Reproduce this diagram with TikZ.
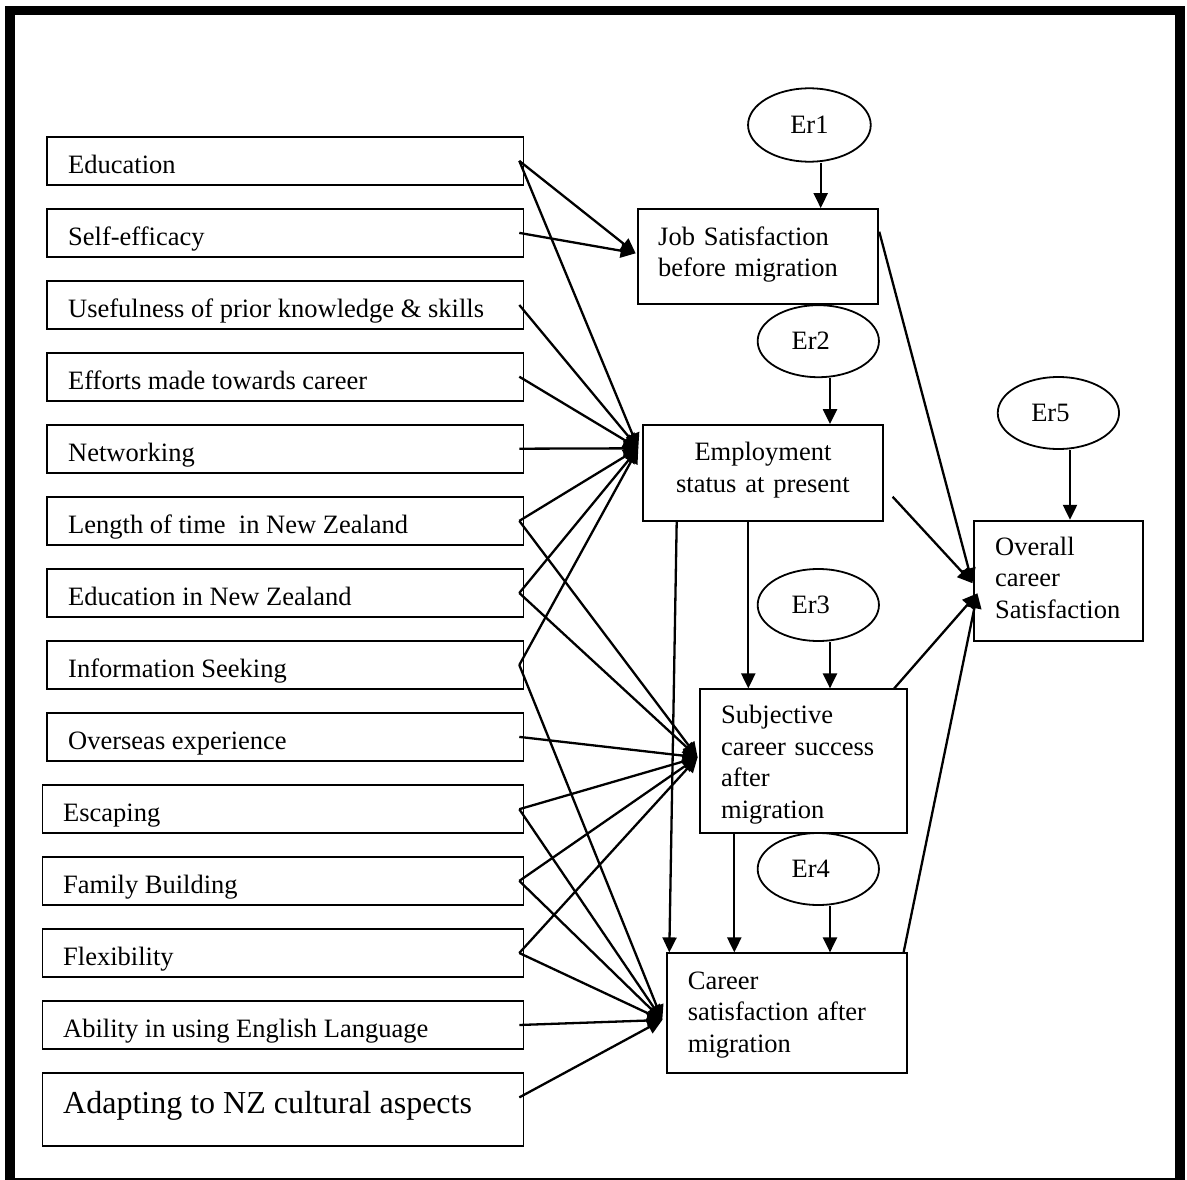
\documentclass[tikz,border=0pt]{standalone}
\usepackage{fontspec}
\setmainfont{Liberation Serif}
\usetikzlibrary{arrows.meta,shapes.geometric}
\newcommand\mainfs{\fontsize{26.5}{31.7}\selectfont}
\newcommand\bigfs{\fontsize{32}{38}\selectfont}
\begin{document}
\begin{tikzpicture}[x=1pt,y=-1pt,
  box/.style={draw, line width=1.8pt, inner sep=0pt},
  lbox/.style={box, minimum width=476.2pt, minimum height=48.2pt},
  lboxb/.style={box, minimum width=481pt, minimum height=48.2pt},
  txt/.style={inner sep=0pt, font=\mainfs, anchor=base west},
  err/.style={draw, ellipse, line width=1.8pt, minimum width=121.3pt, minimum height=72pt, inner sep=0pt, font=\mainfs},
  arr/.style={-{Triangle[length=15pt,width=14pt]}, line width=2.3pt}]
\useasboundingbox (0,0) rectangle (1187,1180);
\draw[line width=9.5pt] (9.85,10.5) rectangle (1180,1183);

% left boxes
\node[lbox] (edu) at (285.3,160.9) {};
\node[txt] (eduT) at (68,173.2) {Education};
\node[lbox] (self) at (285.3,232.9) {};
\node[txt] (selfT) at (68,245.2) {Self-efficacy};
\node[lbox] (use) at (285.3,305) {};
\node[txt] (useT) at (68,317.4) {Usefulness of prior knowledge \& skills};
\node[lbox] (eff) at (285.3,376.7) {};
\node[txt] (effT) at (68,389.1) {Efforts made towards career};
\node[lbox] (net) at (285.3,448.7) {};
\node[txt] (netT) at (68,461.1) {Networking};
\node[lbox] (len) at (285.3,520.9) {};
\node[txt] (lenT) at (68,533.2) {Length of time\ \ in New Zealand};
\node[lbox] (enz) at (285.3,593) {};
\node[txt] (enzT) at (68,605.4) {Education in New Zealand};
\node[lbox] (info) at (285.3,665) {};
\node[txt] (infoT) at (68,677.4) {Information Seeking};
\node[lbox] (over) at (285.3,736.9) {};
\node[txt] (overT) at (68,749.2) {Overseas experience};
\node[lboxb] (esc) at (282.9,809.2) {};
\node[txt] (escT) at (63,821.5) {Escaping};
\node[lboxb] (fam) at (282.9,880.9) {};
\node[txt] (famT) at (63,893.2) {Family Building};
\node[lboxb] (flex) at (282.9,953) {};
\node[txt] (flexT) at (63,965.4) {Flexibility};
\node[lboxb] (abil) at (282.9,1025) {};
\node[txt] (abilT) at (63,1037.4) {Ability in using English Language};
\node[box, minimum width=481pt, minimum height=73.3pt] (adapt) at (282.9,1109.4) {};
\node[txt, font=\bigfs] (adaptT) at (63,1113.3) {Adapting to NZ cultural aspects};

% right boxes
\node[box, minimum width=240.3pt, minimum height=95pt] (js) at (758.2,256.5) {};
\node[txt, text width=220pt, align=left] (jsT) at (658,245) {Job Satisfaction\\before migration};
\node[box, minimum width=240.6pt, minimum height=96pt] (emp) at (763,473) {};
\node[txt, anchor=base, text width=230pt, align=center] (empT) at (763,460.7) {Employment\\status at present};
\node[box, minimum width=207.3pt, minimum height=144pt] (sub) at (803.65,761.3) {};
\node[txt, text width=180pt, align=left] (subT) at (721,723.3) {Subjective\\career success\\after\\migration};
\node[box, minimum width=240.6pt, minimum height=119.4pt] (car) at (787,1013) {};
\node[txt, text width=210pt, align=left] (carT) at (687.7,989) {Career\\satisfaction after\\migration};
\node[box, minimum width=168.4pt, minimum height=120pt] (ov) at (1058.5,580.7) {};
\node[txt, text width=140pt, align=left] (ovT) at (995,555) {Overall\\career\\Satisfaction};

% error terms
\node[err, minimum width=122.7pt, minimum height=73.4pt] (er1) at (809.4,125) {Er1};
\node[err] (er2) at (818.3,341.2) {\hspace*{-15pt}Er2};
\node[err] (er3) at (818.3,605) {\hspace*{-15pt}Er3};
\node[err] (er4) at (818.3,869) {\hspace*{-15pt}Er4};
\node[err] (er5) at (1058.4,413) {\hspace*{-16pt}Er5};

% arrow targets
\coordinate (jsIn) at ([xshift=-1.5pt,yshift=3.2pt]js.west);
\coordinate (empIn) at ([xshift=-3.5pt,yshift=24.7pt]emp.west);
\coordinate (subIn) at ([xshift=-1.5pt,yshift=4pt]sub.west);
\coordinate (carIn) at ([xshift=-3.5pt,yshift=-7pt]car.west);
\coordinate (ovA) at ([xshift=-1pt,yshift=-2.5pt]ov.west);
\coordinate (ovB) at ([xshift=4pt,yshift=-12.6pt]ov.west);

% left arrows
\foreach \s/\t in {edu/jsIn, edu/empIn, self/jsIn, use/empIn, eff/empIn, net/empIn,
  len/empIn, len/subIn, enz/empIn, enz/subIn, info/empIn, info/carIn, over/subIn,
  esc/subIn, esc/carIn, fam/subIn, fam/carIn, flex/subIn, flex/carIn, abil/carIn}
  \draw[arr] ([xshift=-5pt]\s.east) -- (\t);
\draw[arr] ([xshift=-5pt,yshift=12pt]adapt.east) -- (carIn);

% error arrows
\draw[arr] ([xshift=11.3pt]er1.south) -- ([xshift=11.3pt]er1.south |- js.north);
\draw[arr] ([xshift=11.7pt]er2.south) -- ([xshift=11.7pt]er2.south |- emp.north);
\draw[arr] ([xshift=11.7pt]er3.south) -- ([xshift=11.7pt]er3.south |- sub.north);
\draw[arr] ([xshift=11.7pt]er4.south) -- ([xshift=11.7pt]er4.south |- car.north);
\draw[arr] ([xshift=11.6pt]er5.south) -- ([xshift=11.6pt]er5.south |- ov.north);

% structural arrows
\draw[arr] ([xshift=-14.7pt]emp.south) -- ([xshift=-14.7pt]emp.south |- sub.north);
\draw[arr] ([xshift=-86.3pt]emp.south) -- ([xshift=-117.7pt]car.north);
\draw[arr] ([xshift=-69.35pt]sub.south) -- ([xshift=-69.35pt]sub.south |- car.north);
\draw[arr] ([yshift=24.8pt]js.east) -- (ovA);
\draw[arr] ([xshift=8.4pt,yshift=-23.7pt]emp.east) -- (ovA);
\draw[arr] ([xshift=-14pt]sub.north east) -- (ovB);
\draw[arr] ([xshift=-4.6pt]car.north east) -- (ovB);
\end{tikzpicture}
\end{document}
